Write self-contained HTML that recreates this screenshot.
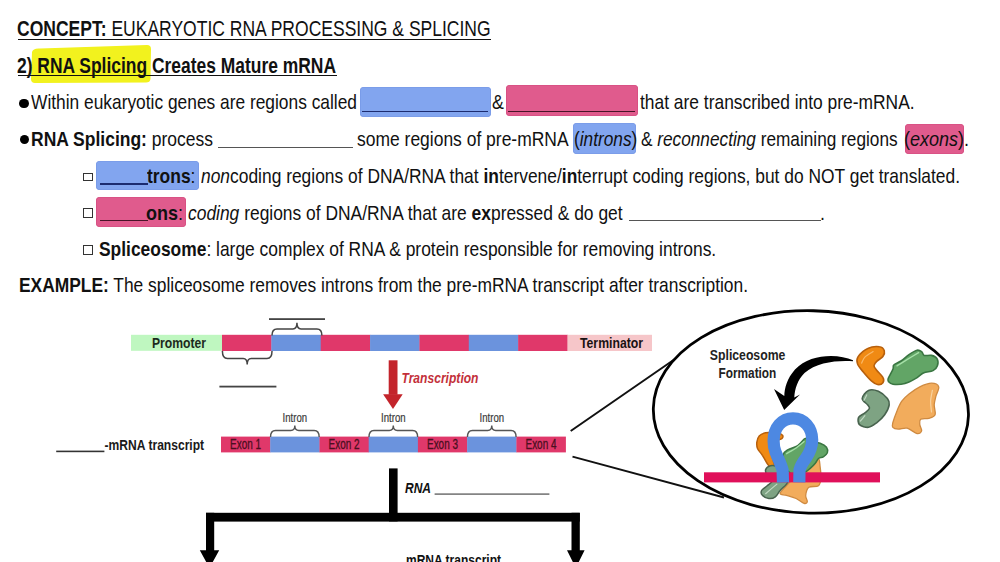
<!DOCTYPE html>
<html><head><meta charset="utf-8">
<style>
html,body{margin:0;padding:0;width:1000px;height:562px;overflow:hidden;background:#fff;}
body{position:relative;font-family:"Liberation Sans",sans-serif;color:#111;}
.tx{position:absolute;white-space:pre;line-height:1;transform-origin:0 0;}
.abs{position:absolute;}
</style></head><body>
<svg class="abs" style="left:0;top:0" width="1000" height="300" viewBox="0 0 1000 300">
<path d="M32,52 Q33,48 40,48.5 L147,45 Q151,45 151,49 L150.5,79 Q150,82.5 146,82.5 L35,83 Q31,83 31,79 Z" fill="#f2f21e"/>
</svg>
<div class="abs" style="left:17.7px;top:38.7px;width:473.5px;height:1.7px;background:#111"></div>
<div class="abs" style="left:18px;top:74.8px;width:318.5px;height:1.7px;background:#111"></div>
<div class="abs" style="left:19.2px;top:98.8px;width:9.6px;height:9.6px;border-radius:50%;background:#000"></div>
<div class="abs" style="left:19.5px;top:134.8px;width:9.6px;height:9.6px;border-radius:50%;background:#000"></div>
<div class="abs" style="left:360px;top:87.2px;width:130.5px;height:29.8px;border-radius:4px;background:#82a5ef;box-shadow:inset 0 0 0 0.6px #7595e4"></div>
<div class="abs" style="left:362px;top:110.6px;width:126px;height:1.5px;background:#1c2c70"></div>
<div class="abs" style="left:506px;top:85px;width:131.6px;height:30.5px;border-radius:4px;background:#e05b8d;box-shadow:inset 0 0 0 0.6px #d24a7e"></div>
<div class="abs" style="left:508px;top:110.6px;width:127px;height:1.5px;background:#4a1428"></div>
<div class="abs" style="left:217.6px;top:147px;width:135px;height:1.4px;background:#555"></div>
<div class="abs" style="left:573px;top:123px;width:63px;height:30.6px;border-radius:4px;background:#82a5ef;box-shadow:inset 0 0 0 0.6px #7595e4"></div>
<div class="abs" style="left:904.7px;top:123.5px;width:59.3px;height:30.1px;border-radius:4px;background:#e05b8d;box-shadow:inset 0 0 0 0.6px #d24a7e"></div>
<div class="abs" style="left:82.8px;top:172.5px;width:7.8px;height:6.8px;border:1.35px solid #333"></div>
<div class="abs" style="left:95.9px;top:161px;width:103.4px;height:29.2px;border-radius:4px;background:#82a5ef;box-shadow:inset 0 0 0 0.6px #7595e4"></div>
<div class="abs" style="left:99.6px;top:183px;width:48px;height:1.6px;background:#1c2c70"></div>
<div class="abs" style="left:82.8px;top:208.2px;width:7.8px;height:7.8px;border:1.35px solid #333"></div>
<div class="abs" style="left:96.4px;top:197px;width:89.6px;height:30.3px;border-radius:4px;background:#e05b8d;box-shadow:inset 0 0 0 0.6px #d24a7e"></div>
<div class="abs" style="left:99.6px;top:219.8px;width:48px;height:1.6px;background:#4a1428"></div>
<div class="abs" style="left:628.6px;top:220px;width:192px;height:1.4px;background:#555"></div>
<div class="abs" style="left:83px;top:245px;width:7.8px;height:7.5px;border:1.35px solid #333"></div>

<div id="t1" class="tx " style="left:17.0px;top:18.2px;font-size:22.5px;transform:scaleX(0.7784)"><b>CONCEPT:</b> EUKARYOTIC RNA PROCESSING &amp; SPLICING</div>
<div id="t2" class="tx " style="left:17.0px;top:55.0px;font-size:22.5px;transform:scaleX(0.7748)"><b>2) RNA Splicing Creates Mature mRNA</b></div>
<div id="t3a" class="tx " style="left:31.0px;top:91.4px;font-size:21px;transform:scaleX(0.8263)">Within eukaryotic genes are regions called</div>
<div id="t3b" class="tx " style="left:491.5px;top:91.4px;font-size:21px;transform:scaleX(0.8500)">&amp;</div>
<div id="t3c" class="tx " style="left:640.0px;top:91.4px;font-size:21px;transform:scaleX(0.8285)">that are transcribed into pre-mRNA.</div>
<div id="t4a" class="tx " style="left:30.6px;top:128.2px;font-size:21px;transform:scaleX(0.8327)"><b>RNA Splicing:</b> process</div>
<div id="t4b" class="tx " style="left:357.4px;top:128.2px;font-size:21px;transform:scaleX(0.8317)">some regions of pre-mRNA</div>
<div id="t4c" class="tx " style="left:573.8px;top:128.2px;font-size:21px;transform:scaleX(0.8214)">(<i>introns</i>)</div>
<div id="t4d" class="tx " style="left:641.4px;top:128.2px;font-size:21px;transform:scaleX(0.8202)">&amp; <i>reconnecting</i> remaining regions</div>
<div id="t4e" class="tx " style="left:904.0px;top:128.2px;font-size:21px;transform:scaleX(0.8580)">(<i>exons</i>).</div>
<div id="t5a" class="tx " style="left:147.2px;top:165.0px;font-size:21px;transform:scaleX(0.8301)"><b>trons</b>:</div>
<div id="t5b" class="tx " style="left:201.4px;top:165.0px;font-size:21px;transform:scaleX(0.8286)"><i>non</i>coding regions of DNA/RNA that <b>in</b>tervene/<b>in</b>terrupt coding regions, but do NOT get translated.</div>
<div id="t6a" class="tx " style="left:146.1px;top:201.5px;font-size:21px;transform:scaleX(0.8563)"><b>ons</b>:</div>
<div id="t6b" class="tx " style="left:188.4px;top:201.5px;font-size:21px;transform:scaleX(0.8291)"><i>coding</i> regions of DNA/RNA that are <b>ex</b>pressed &amp; do get</div>
<div id="t6c" class="tx " style="left:819.8px;top:201.5px;font-size:21px;transform:scaleX(0.8500)">.</div>
<div id="t7" class="tx " style="left:98.8px;top:237.6px;font-size:21px;transform:scaleX(0.8288)"><b>Spliceosome</b>: large complex of RNA &amp; protein responsible for removing introns.</div>
<div id="t8" class="tx " style="left:18.6px;top:274.2px;font-size:21px;transform:scaleX(0.8277)"><b>EXAMPLE:</b> The spliceosome removes introns from the pre-mRNA transcript after transcription.</div>
<svg class="abs" style="left:0;top:0" width="1000" height="562" viewBox="0 0 1000 562" font-family="Liberation Sans, sans-serif">
<rect x="131" y="334.8" width="91" height="16" fill="#bff7c0"/>
<text x="152" y="347.9" font-size="15.2" font-weight="bold" fill="#1c2a1c" textLength="54" lengthAdjust="spacingAndGlyphs">Promoter</text>
<rect x="222.00" y="334.8" width="49.66" height="16.2" fill="#e0386a"/>
<rect x="271.36" y="334.8" width="49.66" height="16.2" fill="#6b93dd"/>
<rect x="320.71" y="334.8" width="49.66" height="16.2" fill="#e0386a"/>
<rect x="370.07" y="334.8" width="49.66" height="16.2" fill="#6b93dd"/>
<rect x="419.43" y="334.8" width="49.66" height="16.2" fill="#e0386a"/>
<rect x="468.79" y="334.8" width="49.66" height="16.2" fill="#6b93dd"/>
<rect x="518.14" y="334.8" width="49.66" height="16.2" fill="#e0386a"/>
<rect x="567.5" y="334.8" width="84.5" height="16.2" fill="#f6c6c9"/>
<text x="580" y="348" font-size="15.3" font-weight="bold" fill="#1a1212" textLength="63" lengthAdjust="spacingAndGlyphs">Terminator</text>
<path d="M272,335.5 Q272,329 277,329 L292.95,329 Q296.95,329 296.95,322.8 Q296.95,329 300.95,329 L316.9,329 Q321.9,329 321.9,335.5" fill="none" stroke="#444" stroke-width="1.5"/>
<path d="M222.4,351 Q222.4,358.5 227.4,358.5 L243.2,358.5 Q247.2,358.5 247.2,364.4 Q247.2,358.5 251.2,358.5 L267,358.5 Q272,358.5 272,351" fill="none" stroke="#444" stroke-width="1.5"/>
<rect x="269" y="318.2" width="56" height="1.8" fill="#444"/>
<rect x="219.4" y="385.7" width="57" height="1.8" fill="#444"/>
<rect x="388.7" y="360.3" width="8.8" height="34.5" fill="#c3242b"/>
<path d="M383.1,394.2 L402.7,394.2 L393,409 Z" fill="#c3242b"/>
<text x="401.5" y="382.5" font-size="14.3" font-weight="bold" font-style="italic" fill="#c3303a" textLength="77" lengthAdjust="spacingAndGlyphs">Transcription</text>
<rect x="221.00" y="436.6" width="49.53" height="15.8" fill="#e0386a"/>
<rect x="270.23" y="436.6" width="49.53" height="15.8" fill="#6b93dd"/>
<rect x="319.46" y="436.6" width="49.53" height="15.8" fill="#e0386a"/>
<rect x="368.69" y="436.6" width="49.53" height="15.8" fill="#6b93dd"/>
<rect x="417.91" y="436.6" width="49.53" height="15.8" fill="#e0386a"/>
<rect x="467.14" y="436.6" width="49.53" height="15.8" fill="#6b93dd"/>
<rect x="516.37" y="436.6" width="49.53" height="15.8" fill="#e0386a"/>
<text x="245.6" y="449.2" font-size="14" fill="#4a0f20" stroke="#4a0f20" stroke-width="0.3" text-anchor="middle" textLength="31" lengthAdjust="spacingAndGlyphs">Exon 1</text>
<text x="344.1" y="449.2" font-size="14" fill="#4a0f20" stroke="#4a0f20" stroke-width="0.3" text-anchor="middle" textLength="31" lengthAdjust="spacingAndGlyphs">Exon 2</text>
<text x="442.5" y="449.2" font-size="14" fill="#4a0f20" stroke="#4a0f20" stroke-width="0.3" text-anchor="middle" textLength="31" lengthAdjust="spacingAndGlyphs">Exon 3</text>
<text x="541.0" y="449.2" font-size="14" fill="#4a0f20" stroke="#4a0f20" stroke-width="0.3" text-anchor="middle" textLength="31" lengthAdjust="spacingAndGlyphs">Exon 4</text>
<path d="M270.52857142857147,437 Q270.52857142857147,430.5 275.52857142857147,430.5 L290.84285714285716,430.5 Q294.84285714285716,430.5 294.84285714285716,425.5 Q294.84285714285716,430.5 298.84285714285716,430.5 L314.1571428571429,430.5 Q319.1571428571429,430.5 319.1571428571429,437" fill="none" stroke="#555" stroke-width="1.4"/>
<text x="294.8" y="422.4" font-size="12" fill="#3a3a3a" stroke="#3a3a3a" stroke-width="0.2" text-anchor="middle" textLength="24.5" lengthAdjust="spacingAndGlyphs">Intron</text>
<path d="M368.9857142857143,437 Q368.9857142857143,430.5 373.9857142857143,430.5 L389.30000000000007,430.5 Q393.30000000000007,430.5 393.30000000000007,425.5 Q393.30000000000007,430.5 397.30000000000007,430.5 L412.61428571428576,430.5 Q417.61428571428576,430.5 417.61428571428576,437" fill="none" stroke="#555" stroke-width="1.4"/>
<text x="393.3" y="422.4" font-size="12" fill="#3a3a3a" stroke="#3a3a3a" stroke-width="0.2" text-anchor="middle" textLength="24.5" lengthAdjust="spacingAndGlyphs">Intron</text>
<path d="M467.4428571428572,437 Q467.4428571428572,430.5 472.4428571428572,430.5 L487.7571428571429,430.5 Q491.7571428571429,430.5 491.7571428571429,425.5 Q491.7571428571429,430.5 495.7571428571429,430.5 L511.07142857142867,430.5 Q516.0714285714287,430.5 516.0714285714287,437" fill="none" stroke="#555" stroke-width="1.4"/>
<text x="491.8" y="422.4" font-size="12" fill="#3a3a3a" stroke="#3a3a3a" stroke-width="0.2" text-anchor="middle" textLength="24.5" lengthAdjust="spacingAndGlyphs">Intron</text>
<rect x="56.2" y="450.6" width="48.2" height="1.6" fill="#333"/>
<text x="104.6" y="450.2" font-size="14.6" font-weight="bold" fill="#1a1a1a" textLength="99.5" lengthAdjust="spacingAndGlyphs">-mRNA transcript</text>
<path d="M570.7,431 L675,359 M572.5,456.6 L724,497.5" stroke="#111" stroke-width="2" fill="none"/>
<ellipse cx="810.9" cy="411.9" rx="157.6" ry="101.2" fill="none" stroke="#000" stroke-width="2.8" transform="rotate(1.4 810.9 411.9)"/>
<text x="747.6" y="360.3" font-size="14" font-weight="bold" fill="#222" text-anchor="middle" textLength="75.5" lengthAdjust="spacingAndGlyphs">Spliceosome</text>
<text x="747.4" y="377.5" font-size="14" font-weight="bold" fill="#222" text-anchor="middle" textLength="57.8" lengthAdjust="spacingAndGlyphs">Formation</text>
<rect x="389" y="468.4" width="8.6" height="53" fill="#000"/>
<rect x="206" y="512.8" width="373.8" height="8.8" fill="#000"/>
<rect x="206" y="512.8" width="8.2" height="40" fill="#000"/>
<rect x="571.5" y="512.8" width="8.3" height="40" fill="#000"/>
<path d="M199.8,550.2 L219.2,550.2 L209.5,568 Z M567,550.2 L584.6,550.2 L575.8,568 Z" fill="#000"/>
<text x="405" y="493" font-size="14.4" font-weight="bold" font-style="italic" fill="#111" textLength="26" lengthAdjust="spacingAndGlyphs">RNA</text>
<rect x="434.6" y="493.4" width="114.8" height="1.4" fill="#666"/>
<text x="406" y="564.6" font-size="14.4" font-weight="bold" fill="#111" textLength="95" lengthAdjust="spacingAndGlyphs">mRNA transcript</text>
</svg><svg class="abs" style="left:0;top:0" width="1000" height="562" viewBox="0 0 1000 562">
<path d="M858.0,356.9 C859.7,354.3 864.2,350.2 867.8,348.5 C871.4,346.7 876.6,346.3 879.4,346.7 C882.1,347.0 883.7,349.0 884.3,350.7 C884.8,352.3 884.2,354.7 882.9,356.5 C881.7,358.2 878.2,359.8 876.7,361.4 C875.2,362.9 874.0,364.3 874.0,365.8 C874.0,367.3 875.2,368.3 876.7,370.2 C878.2,372.2 881.9,375.3 882.9,377.4 C884.0,379.4 883.8,381.5 882.9,382.7 C882.0,383.9 879.5,384.8 877.6,384.5 C875.7,384.2 873.7,383.0 871.4,380.9 C869.0,378.8 865.6,374.8 863.3,372.0 C861.0,369.2 858.5,366.5 857.6,364.0 C856.7,361.5 856.3,359.5 858.0,356.9 Z" fill="#f08a14" stroke="#b8600c" stroke-width="1.6"/>
<path d="M861.6,363.1 C862.2,362.1 863.2,358.8 865.1,356.9 C867.1,355.0 871.8,352.5 873.1,351.6 " fill="none" stroke="#f9b868" stroke-width="1.2" stroke-linecap="round"/>
<path d="M888.2,378.6 C888.9,376.5 892.1,371.3 893.0,369.0 C893.9,366.8 892.5,366.4 893.8,365.0 C895.1,363.7 898.5,362.7 901.0,361.0 C903.5,359.3 906.4,356.4 909.0,354.6 C911.7,352.8 914.9,350.7 917.0,350.2 C919.2,349.7 920.6,350.9 921.8,351.8 C923.0,352.7 922.6,354.8 924.2,355.4 C925.8,356.0 929.3,354.9 931.4,355.4 C933.6,355.9 936.0,356.9 937.0,358.6 C938.0,360.3 938.1,363.8 937.4,365.8 C936.8,367.8 935.4,369.4 933.0,370.6 C930.7,371.8 926.4,371.7 923.4,373.0 C920.5,374.4 918.5,376.9 915.4,378.6 C912.4,380.4 908.8,382.5 905.0,383.4 C901.3,384.4 895.7,384.5 893.0,384.2 C890.3,384.0 889.4,382.8 888.6,381.8 C887.8,380.9 887.5,380.8 888.2,378.6 Z" fill="#62a566" stroke="#3a7642" stroke-width="1.6"/>
<path d="M897.0,365.8 C898.7,364.7 903.8,361.6 907.4,359.4 C911.0,357.2 916.8,353.7 918.6,352.6 " fill="none" stroke="#a6e0a8" stroke-width="1.4" stroke-linecap="round"/>
<path d="M862.2,398.5 C862.4,396.1 865.8,391.6 868.5,390.4 C871.2,389.2 875.3,390.0 878.4,391.3 C881.6,392.7 885.6,396.3 887.4,398.5 C889.2,400.8 889.7,402.1 889.2,404.8 C888.8,407.5 886.8,411.7 884.7,414.7 C882.6,417.7 879.3,420.7 876.6,422.8 C873.9,424.9 871.4,427.0 868.5,427.3 C865.7,427.6 861.2,426.3 859.5,424.6 C857.9,423.0 857.7,419.4 858.6,417.4 C859.5,415.5 863.1,414.4 864.9,412.9 C866.7,411.4 869.0,409.8 869.4,408.4 C869.9,407.1 868.8,406.5 867.6,404.8 C866.4,403.2 862.1,400.9 862.2,398.5 Z" fill="#7ea383" stroke="#48634e" stroke-width="1.6"/>
<path d="M864.0,400.3 C864.5,399.4 866.3,395.8 866.7,394.9 " fill="none" stroke="#c0d8c2" stroke-width="1.2" stroke-linecap="round"/>
<path d="M860.4,421.0 C861.2,420.1 864.2,416.5 864.9,415.6 " fill="none" stroke="#c0d8c2" stroke-width="1.2" stroke-linecap="round"/>
<path d="M892.8,422.8 C893.6,420.0 895.8,413.8 897.3,410.2 C898.8,406.6 899.9,403.9 901.8,401.2 C903.8,398.5 906.0,396.4 909.0,394.0 C912.0,391.6 916.1,388.6 919.8,386.8 C923.6,385.0 928.4,383.2 931.5,383.2 C934.7,383.2 938.0,384.7 938.7,386.8 C939.5,388.9 936.8,392.8 936.0,395.8 C935.3,398.8 934.4,401.7 934.2,404.8 C934.1,408.0 936.0,412.5 935.1,414.7 C934.2,417.0 931.2,417.6 928.8,418.3 C926.4,419.1 922.2,418.2 920.7,419.2 C919.2,420.3 919.7,422.7 919.8,424.6 C920.0,426.6 922.1,429.4 921.6,430.9 C921.2,432.4 919.5,434.1 917.1,433.6 C914.7,433.2 910.4,429.0 907.2,428.2 C904.1,427.5 900.6,429.3 898.2,429.1 C895.8,429.0 893.7,428.4 892.8,427.3 C891.9,426.3 892.1,425.7 892.8,422.8 Z" fill="#f2ac5c" stroke="#cf8a40" stroke-width="1.3"/>
<path d="M932.4,390.4 C932.1,392.2 930.8,397.6 930.6,401.2 C930.5,404.8 931.4,410.2 931.5,412.0 " fill="none" stroke="#f8d29e" stroke-width="1.2" stroke-linecap="round"/>
<path d="M756.8,442.4 C757.1,440.3 757.8,437.6 759.2,436.0 C760.7,434.4 762.7,433.4 765.6,432.8 C768.6,432.2 774.1,432.1 776.9,432.5 C779.7,432.9 781.6,434.2 782.5,435.2 C783.3,436.2 782.7,437.6 782.0,438.4 C781.3,439.2 779.7,439.1 778.5,440.0 C777.2,441.0 775.5,441.5 774.5,444.0 C773.4,446.6 772.1,451.5 772.1,455.3 C772.1,459.0 775.0,464.7 774.5,466.5 C773.9,468.2 770.8,467.5 768.8,465.7 C766.8,463.8 764.3,458.1 762.4,455.3 C760.6,452.5 758.6,451.0 757.6,448.8 C756.7,446.7 756.6,444.6 756.8,442.4 Z" fill="#f08a14" stroke="#b8600c" stroke-width="1.5"/>
<path d="M804.1,471.3 C807.6,468.9 811.3,467.0 813.7,464.9 C816.1,462.7 817.5,458.2 818.5,458.5 C819.6,458.7 819.7,463.3 820.1,466.5 C820.5,469.7 821.2,474.5 820.9,477.7 C820.7,480.9 820.5,484.1 818.5,485.7 C816.5,487.3 811.0,485.7 808.9,487.3 C806.8,488.9 806.0,492.9 805.7,495.3 C805.4,497.7 807.6,500.4 807.3,501.7 C807.0,503.1 806.0,503.9 804.1,503.3 C802.2,502.8 799.0,499.9 796.1,498.5 C793.2,497.2 789.1,496.1 786.5,495.3 C783.8,494.5 780.3,495.1 780.1,493.7 C779.8,492.4 782.7,489.7 784.9,487.3 C787.0,484.9 789.7,482.0 792.9,479.3 C796.1,476.6 800.6,473.7 804.1,471.3 Z" fill="#f2ac5c" stroke="#cf8a40" stroke-width="1.3"/>
<path d="M765.6,469.7 C766.2,467.9 768.6,466.2 770.4,465.7 C772.3,465.1 774.2,465.3 776.9,466.5 C779.5,467.7 784.3,471.0 786.5,472.9 C788.6,474.8 789.7,475.8 789.7,477.7 C789.7,479.6 788.1,482.0 786.5,484.1 C784.9,486.2 781.9,488.4 780.1,490.5 C778.2,492.6 777.1,495.6 775.3,496.9 C773.4,498.3 771.0,498.8 768.8,498.5 C766.7,498.3 763.6,496.7 762.4,495.3 C761.2,494.0 760.8,492.1 761.6,490.5 C762.4,488.9 765.5,487.3 767.2,485.7 C769.0,484.1 772.1,482.5 772.1,480.9 C772.1,479.3 768.3,478.0 767.2,476.1 C766.2,474.2 765.1,471.4 765.6,469.7 Z" fill="#7ea383" stroke="#48634e" stroke-width="1.5"/>
<path d="M765.6,493.7 C767.5,492.1 775.0,485.7 776.9,484.1 " fill="none" stroke="#c0d8c2" stroke-width="1.2" stroke-linecap="round"/>
<path d="M783.3,454.5 C783.8,451.9 785.7,451.1 788.1,449.6 C790.5,448.2 795.0,447.4 797.7,445.6 C800.4,443.9 802.5,440.4 804.1,439.2 C805.7,438.0 806.2,438.0 807.3,438.4 C808.4,438.8 808.4,440.8 810.5,441.6 C812.6,442.4 817.5,442.3 820.1,443.2 C822.8,444.2 825.3,445.6 826.5,447.2 C827.7,448.8 827.9,451.2 827.3,452.9 C826.8,454.5 824.8,455.9 823.3,456.9 C821.9,457.8 819.9,457.4 818.5,458.5 C817.2,459.5 816.7,461.7 815.3,463.3 C814.0,464.9 812.4,466.5 810.5,468.1 C808.6,469.7 806.8,471.7 804.1,472.9 C801.4,474.1 797.2,475.6 794.5,475.3 C791.8,475.0 789.7,473.0 788.1,471.3 C786.5,469.5 785.7,467.7 784.9,464.9 C784.1,462.1 782.7,457.0 783.3,454.5 Z" fill="#62a566" stroke="#3a7642" stroke-width="1.5"/>
<path d="M786.5,453.7 C788.1,452.7 793.2,450.0 796.1,448.0 C799.0,446.0 802.8,442.7 804.1,441.6 " fill="none" stroke="#a6e0a8" stroke-width="1.3" stroke-linecap="round"/>
<rect x="704" y="472.3" width="176" height="10.1" fill="#e0105a"/>
<path d="M783,482.4 L782.6,470 C781,464 777.8,458 775.5,452 C774,448 773.6,445 773.6,441 C773.6,427.5 782,418.3 793,418.3 C804,418.3 812.2,427.5 812.2,440 C812.2,446 810,452 806,458 C803,462 800.5,466 799.5,470 L799.3,482.4" fill="none" stroke="#4d88e2" stroke-width="12.2"/>
<path d="M853,360.2 C838,353.5 810,353.5 795,369.5 C787,378.5 784.5,388 784.3,396 L774,389 L784.2,410 L800,394.5 L794.3,397.5 C794.8,389 797.5,380 804.5,373 C816.5,362 838,360 853,361.2 Z" fill="#000"/>
</svg>
</body></html>
